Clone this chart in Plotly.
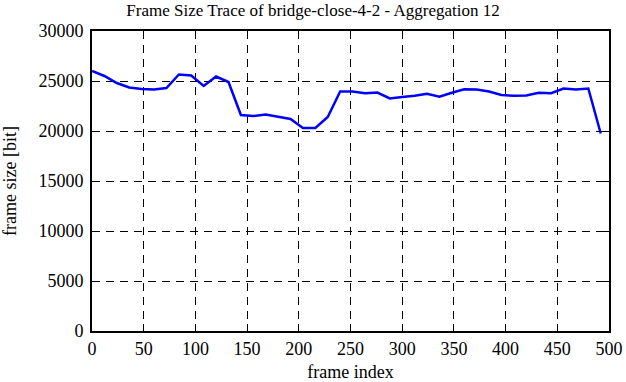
import plotly.graph_objects as go

frame_index = [0, 12, 24, 36, 48, 60, 72, 84, 96, 108, 120, 132, 144, 156, 168, 180,
               192, 204, 216, 228, 240, 252, 264, 276, 288, 300, 312, 324, 336, 348,
               360, 372, 384, 396, 408, 420, 432, 444, 456, 468, 480, 492]
frame_size = [26000, 25500, 24800, 24350, 24200, 24150, 24300, 25650, 25550, 24500,
              25450, 24900, 21600, 21500, 21650, 21450, 21200, 20300, 20300, 21400,
              23950, 23950, 23780, 23850, 23250, 23400, 23520, 23720, 23420, 23820,
              24180, 24150, 23950, 23600, 23520, 23550, 23820, 23780, 24250, 24150,
              24250, 19750]

x_ticks = [0, 50, 100, 150, 200, 250, 300, 350, 400, 450, 500]
y_ticks = [0, 5000, 10000, 15000, 20000, 25000, 30000]

font = "Liberation Serif, Times New Roman, serif"

fig = go.Figure()
fig.add_trace(go.Scatter(x=frame_index, y=frame_size, mode="lines",
                         line=dict(color="#0000ff", width=2.5), showlegend=False,
                         hoverinfo="skip"))

axis_common = dict(showline=True, linecolor="black", linewidth=2, mirror="ticks",
                   ticks="inside", ticklen=7, tickcolor="black", tickwidth=1,
                   showgrid=True, gridcolor="black", gridwidth=1, griddash="8px,6px",
                   zeroline=False, automargin=False,
                   tickfont=dict(family=font, size=18, color="black"))

fig.update_xaxes(range=[0, 500], tickvals=x_ticks, ticktext=[str(v) for v in x_ticks],
                 title=dict(text="frame index", font=dict(family=font, size=18, color="black"),
                            standoff=12),
                 **axis_common)
fig.update_yaxes(range=[0, 30000], tickvals=y_ticks, ticktext=[str(v) for v in y_ticks],
                 ticklabelstandoff=3,
                 title=dict(text="frame size [bit]", font=dict(family=font, size=18, color="black"),
                            standoff=18),
                 **axis_common)

fig.update_layout(
    width=626, height=382,
    margin=dict(l=92, r=17, t=31, b=51),
    paper_bgcolor="white", plot_bgcolor="white",
    title=dict(text="Frame Size Trace of bridge-close-4-2 - Aggregation 12",
               font=dict(family=font, size=17, color="black"),
               x=0.5, xanchor="center", y=0.975, yanchor="middle"),
)

fig.write_html("out.html", config={"displayModeBar": False, "staticPlot": True},
               post_script="document.body.style.margin='0';document.body.style.overflow='hidden';")
